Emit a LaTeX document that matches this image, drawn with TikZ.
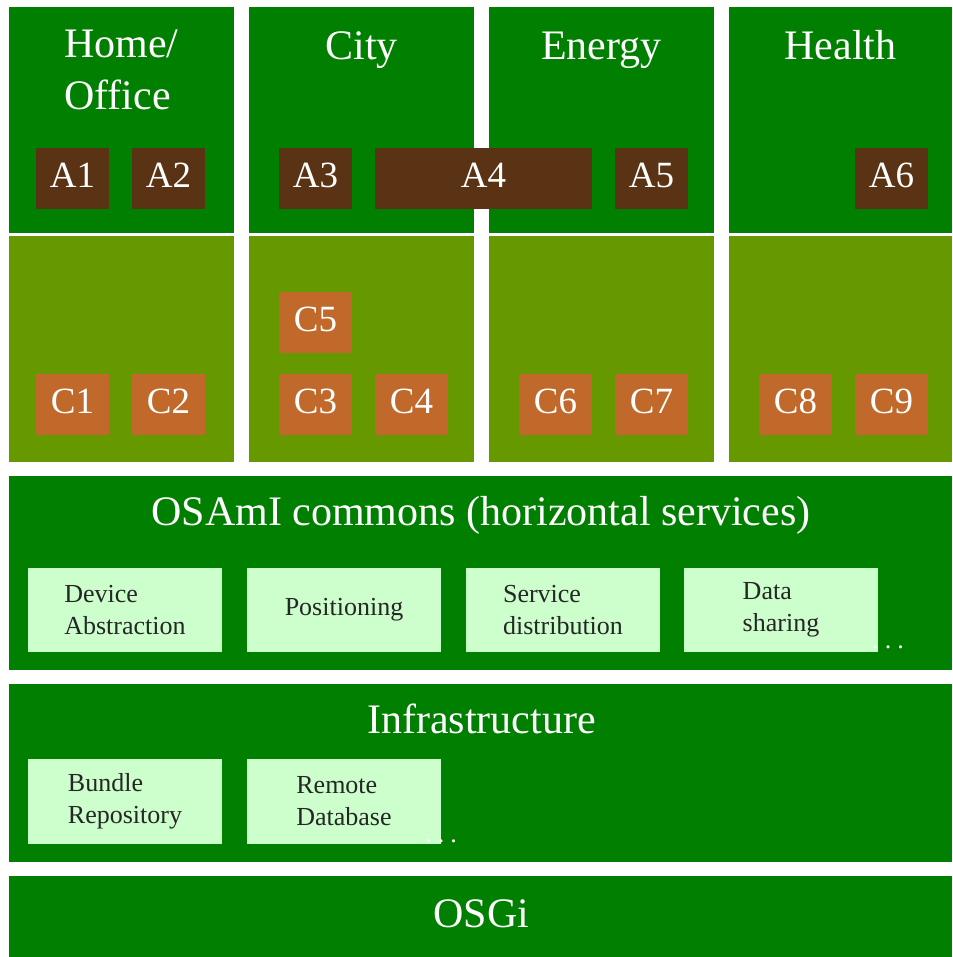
\documentclass[tikz,border=0pt]{standalone}
\usepackage{fontspec}
\setmainfont{Liberation Serif}
\usetikzlibrary{shapes}
\definecolor{osami_green}{HTML}{007F00}
\definecolor{osami_olive}{HTML}{669900}
\definecolor{osami_brown}{HTML}{5A3214}
\definecolor{osami_orange}{HTML}{C0692B}
\definecolor{osami_pale}{HTML}{CCFFCC}
\tikzset{
	block/.style = {
		rectangle,
		inner sep=0pt,
		outer sep=0pt,
		draw=none,
		text centered
	},
	node_top/.style = {
		block,
		fill=osami_green,
		minimum width=112.5pt,
		minimum height=113pt
	},
	node_low/.style = {
		node_top,
		fill=osami_olive
	},
	node_app/.style = {
		block,
		fill=osami_brown,
		text=white,
		font=\fontsize{18.5}{22}\selectfont,
		text height=12pt,
		text depth=3pt,
		minimum width=36.5pt,
		minimum height=30.5pt
	},
	node_app_wide/.style = {
		node_app,
		minimum width=108.5pt
	},
	node_comp/.style = {
		node_app,
		fill=osami_orange
	},
	node_band/.style = {
		block,
		fill=osami_green,
		minimum width=471.5pt
	},
	node_service/.style = {
		block,
		fill=osami_pale,
		text=black!85,
		align=left,
		font=\fontsize{13}{16}\selectfont,
		minimum width=97pt,
		minimum height=42pt
	},
	node_title/.style = {
		text=white,
		inner sep=0pt,
		anchor=base,
		align=left,
		font=\fontsize{21}{26}\selectfont
	},
	node_dots/.style = {
		text=white,
		inner sep=0pt,
		anchor=base west,
		font=\fontsize{13}{16}\selectfont
	},
}

\begin{document}
\begin{tikzpicture}[x=0.5pt, y=-0.5pt]
\useasboundingbox (0,0) rectangle (952,957);
\node [node_top] (home_top) at (121.5,120) {};
\node [node_top] (city_top) at (361.5,120) {};
\node [node_top] (energy_top) at (601.5,120) {};
\node [node_top, minimum width=111.5pt] (health_top) at (840.5,120) {};
\node [node_low] (home_low) at (121.5,349) {};
\node [node_low] (city_low) at (361.5,349) {};
\node [node_low] (energy_low) at (601.5,349) {};
\node [node_low, minimum width=111.5pt] (health_low) at (840.5,349) {};

\node [node_title] (home_title) at (121.5,110) {Home/\\Office};
\node [node_title] (city_title) at (361.5,60) {City};
\node [node_title] (energy_title) at (601.5,60) {Energy};
\node [node_title] (health_title) at (840.5,60) {Health};

\node [node_app] (a1) at (72.5,179) {A1};
\node [node_app] (a2) at (168.5,179) {A2};
\node [node_app] (a3) at (315.5,179) {A3};
\node [node_app_wide] (a4) at (483.5,179) {A4};
\node [node_app] (a5) at (651.5,179) {A5};
\node [node_app] (a6) at (891.5,179) {A6};

\node [node_comp] (c5) at (315.5,322) {C5};
\node [node_comp] (c1) at (72.5,404.5) {C1};
\node [node_comp] (c2) at (168.5,404.5) {C2};
\node [node_comp] (c3) at (315.5,404.5) {C3};
\node [node_comp] (c4) at (411.5,404.5) {C4};
\node [node_comp] (c6) at (555.5,404.5) {C6};
\node [node_comp] (c7) at (651.5,404.5) {C7};
\node [node_comp] (c8) at (795.5,404.5) {C8};
\node [node_comp] (c9) at (891.5,404.5) {C9};

\node [node_band, minimum height=97pt] (commons) at (480.5,573) {};
\node [node_title] (commons_title) at (481,525) {OSAmI commons (horizontal services)};
\node [node_service] (device) at (125,610) {Device\\Abstraction};
\node [node_service] (positioning) at (344,610) {Positioning};
\node [node_service] (distribution) at (563,610) {Service\\distribution};
\node [node_service] (sharing) at (781,610) {Data\\sharing};
\node [node_dots] (commons_dots) at (872,648.5) {.\hspace{3pt}.\hspace{3pt}.};

\node [node_band, minimum height=89pt] (infra) at (480.5,773) {};
\node [node_title] (infra_title) at (481.5,733) {Infrastructure};
\node [node_service, minimum height=42.5pt] (repository) at (125,801.5) {Bundle\\Repository};
\node [node_service, minimum height=42.5pt] (database) at (344,801.5) {Remote\\Database};
\node [node_dots] (infra_dots) at (425,842.5) {.\hspace{3pt}.\hspace{3pt}.};

\node [node_band, minimum height=40.5pt] (osgi) at (480.5,916.5) {};
\node [node_title] (osgi_title) at (481.5,927) {OSGi};
\end{tikzpicture}
\end{document}
